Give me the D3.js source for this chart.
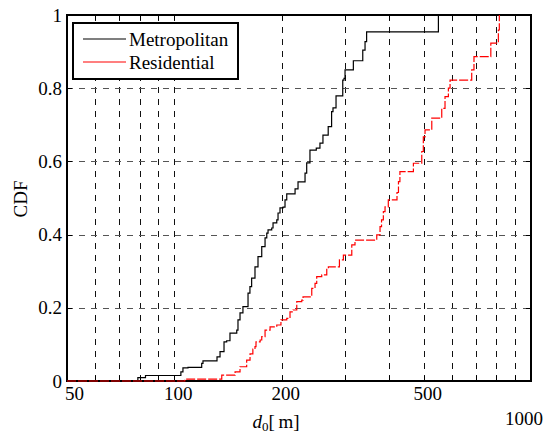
<!DOCTYPE html>
<html>
<head>
<meta charset="utf-8">
<script src="https://cdn.jsdelivr.net/npm/d3@7"></script>
<style>
  html, body { margin: 0; padding: 0; background: #fff; }
  svg { display: block; }
  text { font-family: "Liberation Serif", "Times New Roman", serif; fill: #000; }
</style>
</head>
<body>
<svg id="chart" width="547" height="434"></svg>
<script>
// ---- data ----
const xTickValues = [50, 100, 200, 500, 1000];
const xTickLabels = ["50", "100", "200", "500", "1000"];
const xGridValues = [60, 70, 80, 90, 100, 200, 300, 400, 500, 600, 700, 800, 900];
const yTickValues = [0, 0.2, 0.4, 0.6, 0.8, 1];
const yTickLabels = ["0", "0.2", "0.4", "0.6", "0.8", "1"];
const yGridValues = [0.2, 0.4, 0.6, 0.8];
const seriesNames = ["Metropolitan", "Residential"];
const seriesColors = ["#000000", "#ff0000"];

const metroD = [50, 79, 83, 104.3, 105.7, 109.2, 119.3, 120.3, 131.7, 134.3, 137.8, 140.2, 143.2, 149.6, 150.8, 152.8, 155.7, 160.9, 162.9, 164.7, 168.3, 171.6, 175.8, 179.6, 181.6, 183.1, 187.5, 189.1, 193.7, 195.3, 197.8, 201.7, 204.3, 206.6, 218, 222.2, 232.5, 235, 240, 250, 256, 261, 270, 276, 278.5, 284, 296.6, 299, 301, 317.6, 337.5, 342.5, 346, 550];
const metroCDF = [0, 0.009, 0.015, 0.025, 0.036, 0.037, 0.048, 0.055, 0.066, 0.080, 0.107, 0.110, 0.131, 0.139, 0.167, 0.186, 0.203, 0.240, 0.258, 0.281, 0.312, 0.340, 0.367, 0.391, 0.404, 0.413, 0.418, 0.432, 0.440, 0.459, 0.473, 0.475, 0.495, 0.511, 0.525, 0.544, 0.568, 0.596, 0.631, 0.636, 0.650, 0.672, 0.695, 0.736, 0.746, 0.779, 0.822, 0.827, 0.850, 0.875, 0.904, 0.927, 0.954, 1];

const resD = [50, 107, 135.8, 148, 152.8, 159.5, 163, 166, 168.3, 169.4, 174, 175.8, 179.6, 185.5, 193.7, 199, 206.6, 211, 215.2, 220.4, 227.6, 229.5, 242.8, 248, 250.7, 259, 267.5, 270.3, 290.3, 297.8, 314.4, 321, 369.4, 377.3, 381, 385.5, 389.7, 398, 421, 425, 429, 468, 494, 499, 504.5, 527, 562, 574, 586.6, 593, 682, 692, 771.5, 810, 815];
const resCDF = [0, 0.005, 0.016, 0.025, 0.039, 0.057, 0.074, 0.087, 0.094, 0.107, 0.112, 0.121, 0.139, 0.148, 0.153, 0.167, 0.171, 0.189, 0.194, 0.217, 0.221, 0.230, 0.253, 0.267, 0.285, 0.290, 0.305, 0.312, 0.331, 0.344, 0.372, 0.385, 0.399, 0.422, 0.440, 0.463, 0.476, 0.495, 0.515, 0.545, 0.572, 0.595, 0.627, 0.667, 0.686, 0.718, 0.745, 0.777, 0.800, 0.822, 0.850, 0.886, 0.923, 0.959, 1];

// ---- layout ----
const svg = d3.select("#chart");
const L = 67, R = 531, T = 15, B = 381;
const x = d3.scaleLog().domain([50, 1000]).range([L, R]);
const y = d3.scaleLinear().domain([0, 1]).range([B, T]);
const fs = 19;

// grid
const grid = svg.append("g");
grid.selectAll("line.vg").data(xGridValues).enter().append("line")
  .attr("x1", d => Math.round(x(d)) + 0.5).attr("x2", d => Math.round(x(d)) + 0.5)
  .attr("y1", T).attr("y2", B)
  .attr("stroke", "#111").attr("stroke-width", 1)
  .attr("stroke-dasharray", "6,6");
grid.selectAll("line.hg").data(yGridValues).enter().append("line")
  .attr("x1", L).attr("x2", R)
  .attr("y1", d => Math.round(y(d)) + 0.5).attr("y2", d => Math.round(y(d)) + 0.5)
  .attr("stroke", "#555").attr("stroke-width", 1)
  .attr("stroke-dasharray", "6,6");

// ticks (inward, all four sides)
const tk = svg.append("g").attr("stroke", "#000").attr("stroke-width", 1);
const allX = Array.from(new Set([50].concat(xGridValues).concat([1000])));
allX.forEach(v => {
  const px = Math.round(x(v)) + 0.5;
  tk.append("line").attr("x1", px).attr("x2", px).attr("y1", B).attr("y2", B - 5);
  tk.append("line").attr("x1", px).attr("x2", px).attr("y1", T).attr("y2", T + 5);
});
yTickValues.forEach(v => {
  const py = Math.round(y(v)) + 0.5;
  tk.append("line").attr("x1", L).attr("x2", L + 5).attr("y1", py).attr("y2", py);
  tk.append("line").attr("x1", R).attr("x2", R - 5).attr("y1", py).attr("y2", py);
});

// frame
svg.append("rect").attr("x", L).attr("y", T).attr("width", R - L).attr("height", B - T)
  .attr("fill", "none").attr("stroke", "#000").attr("stroke-width", 2);

// series
const line = d3.line().x(d => x(d[0])).y(d => y(d[1])).curve(d3.curveStepAfter);
const metro = metroD.map((d, i) => [d, metroCDF[i]]);
const res = resD.map((d, i) => [d, resCDF[i]]);
svg.append("path").datum(metro).attr("d", line)
  .attr("fill", "none").attr("stroke", seriesColors[0]).attr("stroke-width", 1.2);
svg.append("path").datum(res).attr("d", line)
  .attr("fill", "none").attr("stroke", seriesColors[1]).attr("stroke-width", 1.2)
  .attr("stroke-dasharray", "9,2");

// x tick labels
xTickValues.forEach((v, i) => {
  const last = v === 1000;
  svg.append("text")
    .attr("x", last ? x(v) - 7 : (i === 0 ? x(v) - 2 : x(v) + 4))
    .attr("y", last ? 425 : 400)
    .attr("text-anchor", i === 0 ? "start" : "middle")
    .attr("font-size", fs)
    .text(xTickLabels[i]);
});
// y tick labels
yTickValues.forEach((v, i) => {
  svg.append("text")
    .attr("x", 62).attr("y", y(v) + 6.5)
    .attr("text-anchor", "end")
    .attr("font-size", fs)
    .text(yTickLabels[i]);
});

// axis labels
svg.append("text")
  .attr("transform", "translate(27,199) rotate(-90)")
  .attr("text-anchor", "middle").attr("font-size", fs)
  .text("CDF");
const xl = svg.append("text").attr("x", 276).attr("y", 428)
  .attr("text-anchor", "middle").attr("font-size", fs);
xl.append("tspan").attr("font-style", "italic").text("d");
xl.append("tspan").attr("font-size", 13).attr("dy", 3).text("0");
xl.append("tspan").attr("dy", -3).text("[\u2009m]");

// legend
const lg = svg.append("g");
lg.append("rect").attr("x", 73).attr("y", 23).attr("width", 165).attr("height", 56)
  .attr("fill", "#fff").attr("stroke", "#000").attr("stroke-width", 2);
seriesNames.forEach((n, i) => {
  const ly = 39 + i * 23;
  lg.append("line").attr("x1", 83).attr("x2", 126).attr("y1", ly).attr("y2", ly)
    .attr("stroke", seriesColors[i]).attr("stroke-width", 1.2);
  lg.append("text").attr("x", 129).attr("y", ly + 6.5).attr("font-size", fs).text(n);
});
</script>
</body>
</html>
